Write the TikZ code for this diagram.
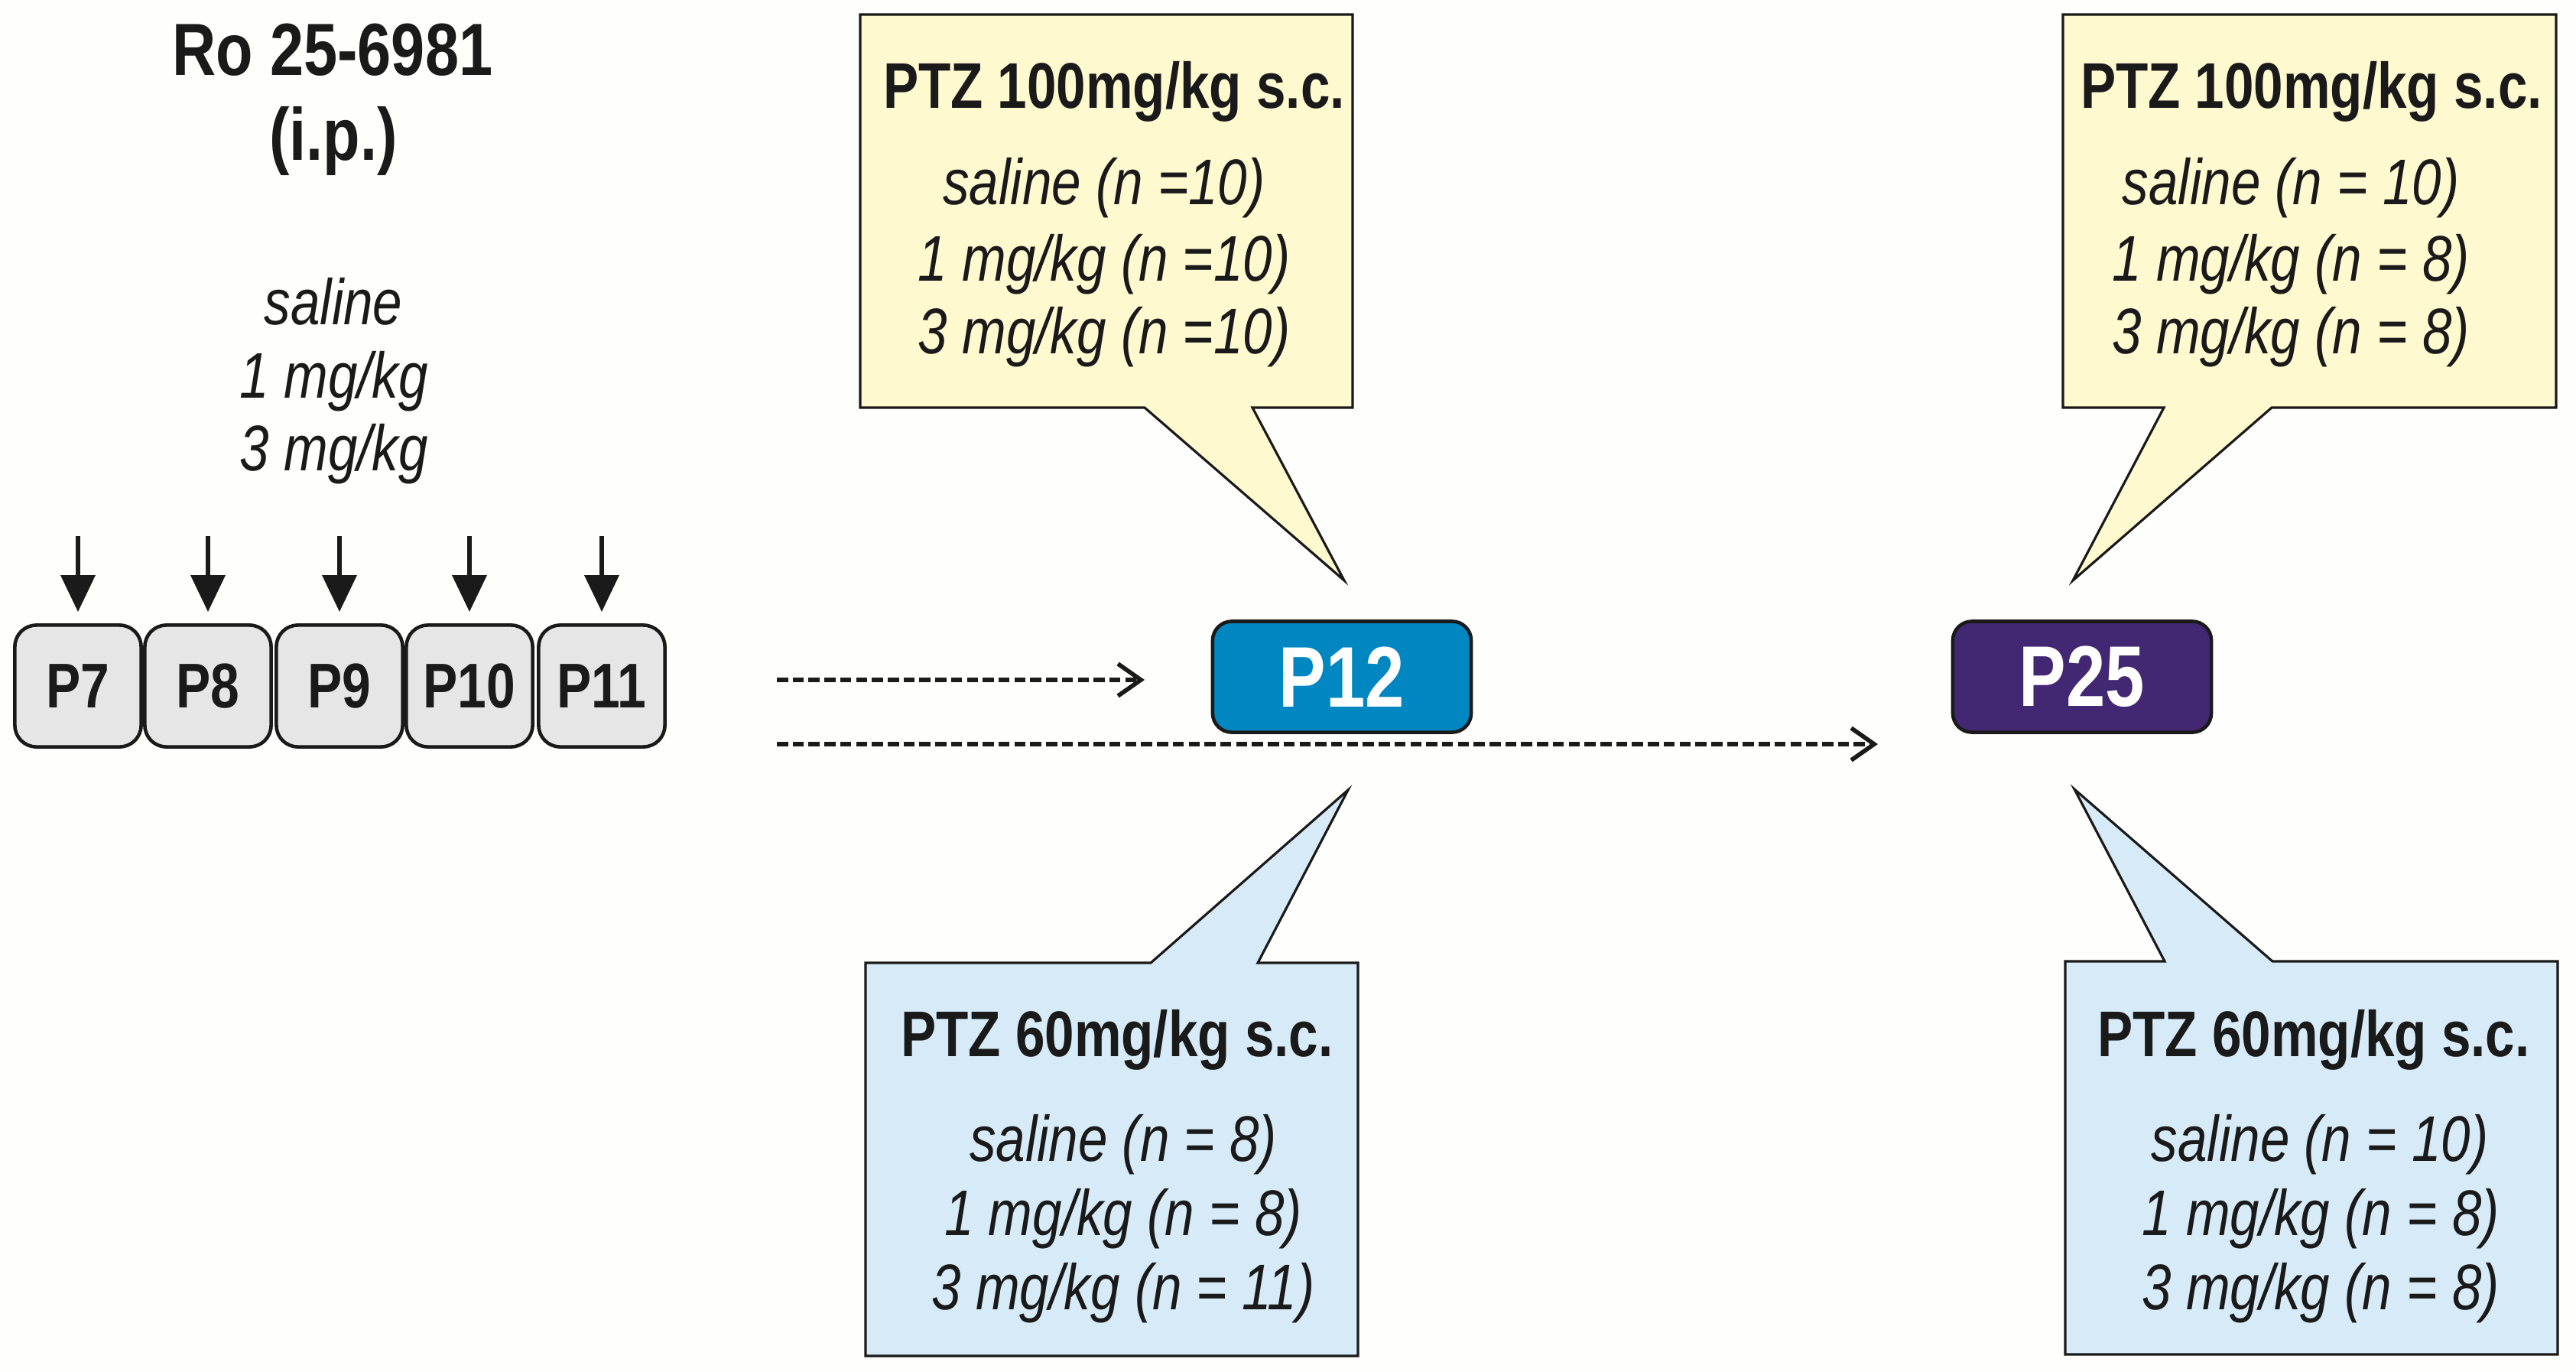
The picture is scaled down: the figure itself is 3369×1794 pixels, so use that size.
\documentclass[tikz,border=0pt]{standalone}
\usepackage{fontspec}
\setmainfont{Liberation Sans}[FakeStretch=0.82]
\usetikzlibrary{arrows.meta}
\definecolor{bgc}{RGB}{254,254,252}
\definecolor{ylw}{RGB}{255,249,208}
\definecolor{lblue}{RGB}{214,235,247}
\definecolor{pgray}{RGB}{230,230,230}
\definecolor{pblue}{RGB}{0,135,193}
\definecolor{ppurple}{RGB}{66,40,114}
\definecolor{ink}{RGB}{26,26,26}
\begin{document}
\begin{tikzpicture}[x=0.01cm,y=-0.01cm,
  daybox/.style={draw=ink, line width=1.3pt, fill=pgray, rounded corners=0.28cm,
    minimum width=1.65cm, minimum height=1.59cm, inner sep=0pt,
    font=\fontsize{23.5}{27}\selectfont\bfseries, text=ink},
  bigbox/.style={draw=ink, line width=1.3pt, rounded corners=0.25cm,
    minimum width=3.38cm, minimum height=1.45cm, inner sep=0pt,
    font=\fontsize{32}{36}\selectfont\bfseries, text=white},
  titletxt/.style={anchor=base, inner sep=0pt, font=\fontsize{27.5}{32}\selectfont\bfseries, text=ink},
  hdr/.style={anchor=base, inner sep=0pt, font=\fontsize{24}{28}\selectfont\bfseries, text=ink},
  bodytxt/.style={anchor=base, inner sep=0pt, font=\fontsize{24}{28}\selectfont\itshape, text=ink},
  callout/.style={draw=ink, line width=0.9pt, line join=miter},
  dnarrow/.style={draw=ink, line width=1.9pt, -{Triangle[length=0.48cm,width=0.44cm]}},
  dasharrow/.style={draw=ink, line width=1.6pt, dash pattern=on 0.145cm off 0.062cm,
    -{Straight Barb[length=0.3cm,width=0.42cm,line width=1.6pt]}}
]
% background / bounding box
\fill[bgc] (0,0) rectangle (3369,1794);

% ---------- left column ----------
\node[titletxt] (t1) at (435,99) {Ro 25-6981};
\node[titletxt] (t2) at (436,210) {(i.p.)};
\node[bodytxt] (d1) at (436,424) {saline};
\node[bodytxt] (d2) at (437,520) {1 mg/kg};
\node[bodytxt] (d3) at (437,615) {3 mg/kg};

\node[daybox] (p7)  at (102,897) {P7};
\node[daybox] (p8)  at (272,897) {P8};
\node[daybox] (p9)  at (444,897) {P9};
\node[daybox] (p10) at (614,897) {P10};
\node[daybox] (p11) at (787,897) {P11};

\foreach \b in {p7,p8,p9,p10,p11}
  \draw[dnarrow] ([yshift=1.14cm]\b.north) -- ([yshift=0.15cm]\b.north);

% ---------- time points ----------
\node[bigbox, fill=pblue]   (p12) at (1755,885) {P12};
\node[bigbox, fill=ppurple] (p25) at (2723,885) {P25};

\coordinate (s1) at (1016,889);
\coordinate (e1) at (1497,889);
\coordinate (s2) at (1016,973);
\coordinate (e2) at (2456,973);
\draw[dasharrow] (s1) -- (e1);
\draw[dasharrow] (s2) -- (e2);

% ---------- callouts ----------
\coordinate (tipA) at (1758,759);
\coordinate (tipB) at (2711,759);
\coordinate (tipC) at (1763,1033);
\coordinate (tipD) at (2713,1032);

\filldraw[callout, fill=ylw] (1125,19) -- (1769,19) -- (1769,533) -- (1638,533)
  -- (tipA) -- (1497,533) -- (1125,533) -- cycle;
\filldraw[callout, fill=ylw] (2698,19) -- (3343,19) -- (3343,533) -- (2971,533)
  -- (tipB) -- (2830,533) -- (2698,533) -- cycle;
\filldraw[callout, fill=lblue] (1132,1259) -- (1505,1259) -- (tipC) -- (1645,1259)
  -- (1776,1259) -- (1776,1773) -- (1132,1773) -- cycle;
\filldraw[callout, fill=lblue] (2701,1257) -- (2831,1257) -- (tipD) -- (2972,1257)
  -- (3345,1257) -- (3345,1771) -- (2701,1771) -- cycle;

% upper-left text
\node[hdr] (ah) at (1457,142) {PTZ 100mg/kg s.c.};
\node[bodytxt] (a1) at (1444,268) {saline (n =10)};
\node[bodytxt] (a2) at (1444,367) {1 mg/kg (n =10)};
\node[bodytxt] (a3) at (1444,462) {3 mg/kg (n =10)};

% upper-right text
\node[hdr] (bh) at (3023,142) {PTZ 100mg/kg s.c.};
\node[bodytxt] (b1) at (2996,268) {saline (n = 10)};
\node[bodytxt] (b2) at (2996,367) {1 mg/kg (n = 8)};
\node[bodytxt] (b3) at (2996,462) {3 mg/kg (n = 8)};

% lower-left text
\node[hdr] (ch) at (1461,1381) {PTZ 60mg/kg s.c.};
\node[bodytxt] (c1) at (1469,1518) {saline (n = 8)};
\node[bodytxt] (c2) at (1469,1615) {1 mg/kg (n = 8)};
\node[bodytxt] (c3) at (1469,1712) {3 mg/kg (n = 11)};

% lower-right text
\node[hdr] (dh) at (3026,1381) {PTZ 60mg/kg s.c.};
\node[bodytxt] (e1t) at (3034,1518) {saline (n = 10)};
\node[bodytxt] (e2t) at (3035,1615) {1 mg/kg (n = 8)};
\node[bodytxt] (e3t) at (3035,1712) {3 mg/kg (n = 8)};
\end{tikzpicture}
\end{document}
